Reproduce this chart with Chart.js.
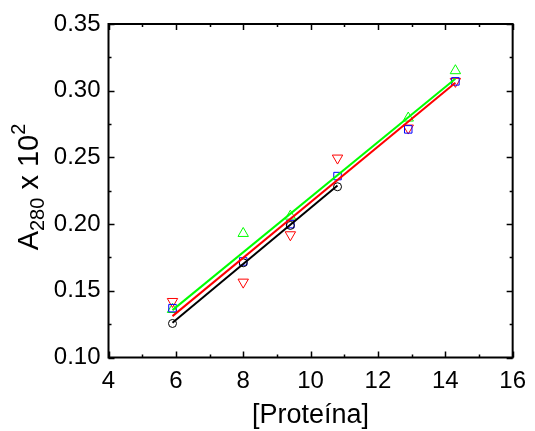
<!DOCTYPE html>
<html>
<head>
<meta charset="utf-8">
<script src="https://cdn.jsdelivr.net/npm/chart.js@4.4.0/dist/chart.umd.min.js"></script>
<style>
html,body{margin:0;padding:0;background:#fff;}
#wrap{width:535px;height:431px;position:relative;}
</style>
</head>
<body>
<div id="wrap"><canvas id="c" width="535" height="431"></canvas></div>
<script>
// ---- data ----
const xValues   = [5.9, 8.0, 9.4, 10.8, 12.9, 14.3];
const blackVals = [0.1255, 0.171, 0.199, 0.228];
const blueVals  = [0.137, 0.172, 0.200, 0.236, 0.271, 0.307];
const redVals   = [0.142, 0.1565, 0.192, 0.2495, 0.272, 0.307];
const greenVals = [0.136, 0.193, 0.206, null, 0.2795, 0.315];

const fitX       = [5.9, 14.3];
const blackFitX  = [5.9, 10.8];
const blackFit   = [0.126, 0.229];
const redFit     = [0.131, 0.306];
const greenFit   = [0.1355, 0.309];

const xTicks = [4, 6, 8, 10, 12, 14, 16];
const yTicks = [0.10, 0.15, 0.20, 0.25, 0.30, 0.35];
const xTitle = "[Proteína]";

function pts(xs, ys){ const o=[]; ys.forEach((y,i)=>{ if(y!==null) o.push({x:xs[i],y:y}); }); return o; }

const FONT = '"Liberation Sans", Arial, sans-serif';

const framePlugin = {
  id:'frame',
  afterDraw(chart){
    const ctx = chart.ctx, a = chart.chartArea;
    const xs = chart.scales.x, ys = chart.scales.y;
    ctx.save();
    ctx.strokeStyle = '#000';
    ctx.lineWidth = 1.5;
    for(let v=4; v<=16; v+=1){
      const px = Math.round(xs.getPixelForValue(v))+0.5;
      const L = (v%2===0)?6:3;
      ctx.beginPath();
      ctx.moveTo(px, a.bottom); ctx.lineTo(px, a.bottom-L);
      ctx.moveTo(px, a.top); ctx.lineTo(px, a.top+L);
      ctx.stroke();
    }
    for(let i=0;i<=10;i++){
      const v = 0.10 + i*0.025;
      const py = Math.round(ys.getPixelForValue(v))+0.5;
      const L = (i%2===0)?6:3;
      ctx.beginPath();
      ctx.moveTo(a.left, py); ctx.lineTo(a.left+L, py);
      ctx.moveTo(a.right, py); ctx.lineTo(a.right-L, py);
      ctx.stroke();
    }
    ctx.lineWidth = 2;
    ctx.strokeRect(a.left, a.top, a.right-a.left, a.bottom-a.top);

    // x title
    ctx.fillStyle = '#000';
    ctx.font = '27px ' + FONT;
    ctx.textAlign = 'center';
    ctx.textBaseline = 'alphabetic';
    ctx.fillText(xTitle, (a.left+a.right)/2, 423);

    // y title with subscript / superscript
    ctx.translate(38, 187);
    ctx.rotate(-Math.PI/2);
    const big = '29px ' + FONT, small = '20px ' + FONT;
    const parts = [
      {t:'A', f:big, dy:0},
      {t:'280', f:small, dy:6},
      {t:' x 10', f:big, dy:0},
      {t:'2', f:small, dy:-13}
    ];
    let total = 0;
    parts.forEach(p=>{ ctx.font=p.f; p.w=ctx.measureText(p.t).width; total+=p.w; });
    let x = -total/2;
    ctx.textAlign='left';
    parts.forEach(p=>{ ctx.font=p.f; ctx.fillText(p.t, x, p.dy); x+=p.w; });
    ctx.restore();
  }
};

const markerBase = {type:'scatter', showLine:false, backgroundColor:'rgba(0,0,0,0)', borderWidth:1, order:2};
const lineBase = {type:'line', showLine:true, pointRadius:0, borderWidth:2, fill:false, tension:0, order:1};

new Chart(document.getElementById('c'), {
  type:'scatter',
  data:{
    datasets:[
      Object.assign({}, markerBase, {label:'black', data:pts(xValues, blackVals), pointStyle:'circle', pointRadius:4, borderColor:'#000000', pointBorderColor:'#000000'}),
      Object.assign({}, markerBase, {label:'blue', data:pts(xValues, blueVals), pointStyle:'rect', pointRadius:5.3, borderColor:'#0000ff', pointBorderColor:'#0000ff'}),
      Object.assign({}, markerBase, {label:'red', data:pts(xValues, redVals), pointStyle:'triangle', rotation:180, pointRotation:180, pointRadius:6, borderColor:'#ff0000', pointBorderColor:'#ff0000'}),
      Object.assign({}, markerBase, {label:'green', data:pts(xValues, greenVals), pointStyle:'triangle', pointRadius:6, borderColor:'#00ff00', pointBorderColor:'#00ff00'}),
      Object.assign({}, lineBase, {label:'blackFit', data:pts(blackFitX, blackFit), borderColor:'#000000'}),
      Object.assign({}, lineBase, {label:'redFit', data:pts(fitX, redFit), borderColor:'#ff0000'}),
      Object.assign({}, lineBase, {label:'greenFit', data:pts(fitX, greenFit), borderColor:'#00ff00'})
    ]
  },
  options:{
    responsive:false,
    animation:false,
    devicePixelRatio:1,
    layout:{padding:{left:0, top:24, right:13, bottom:0}},
    plugins:{legend:{display:false}, tooltip:{enabled:false}},
    scales:{
      x:{
        type:'linear', min:4, max:16,
        grid:{display:false, drawTicks:false},
        border:{display:false},
        afterBuildTicks(s){ s.ticks = xTicks.map(v=>({value:v})); },
        afterFit(s){ s.height = 73.5; },
        ticks:{color:'#000', font:{family:FONT, size:24}, padding:9, maxRotation:0, autoSkip:false,
               callback:(v)=>String(v)}
      },
      y:{
        type:'linear', min:0.10, max:0.35,
        grid:{display:false, drawTicks:false},
        border:{display:false},
        afterBuildTicks(s){ s.ticks = yTicks.map(v=>({value:v})); },
        afterFit(s){ s.width = 108.5; },
        ticks:{color:'#000', font:{family:FONT, size:24}, padding:8, autoSkip:false,
               callback:(v)=>Number(v).toFixed(2)}
      }
    }
  },
  plugins:[framePlugin]
});
</script>
</body>
</html>
